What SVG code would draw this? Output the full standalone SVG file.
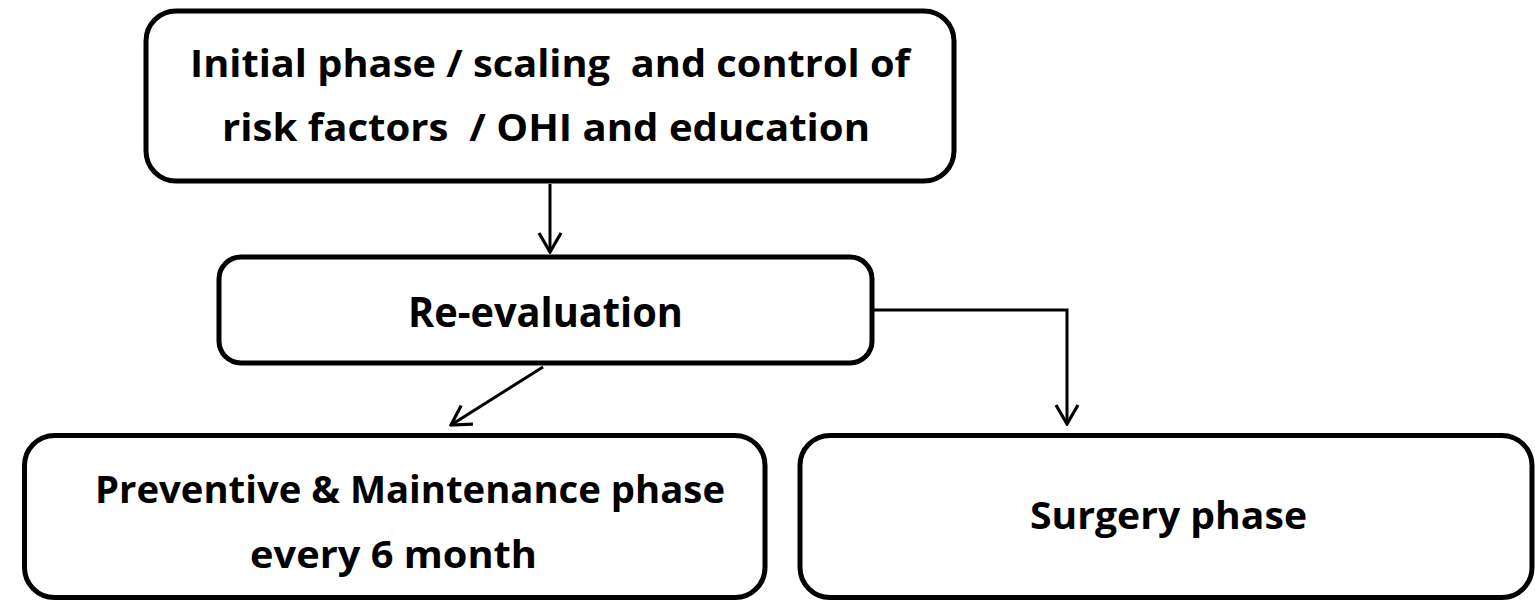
<svg xmlns="http://www.w3.org/2000/svg" width="1535" height="601" viewBox="0 0 1535 601">
<style>
.box{fill:#fff;stroke:#000;stroke-width:5}
.lbl{font-family:"Open Sans","Lato","Liberation Sans",sans-serif;font-weight:bold;fill:#000}
.con{fill:none;stroke:#000;stroke-width:3}
</style>
<defs>
<marker id="arr" viewBox="0 0 22 26" refX="20" refY="13" markerWidth="22" markerHeight="26" markerUnits="userSpaceOnUse" orient="auto">
<path d="M1,2 L20,13 L1,24" fill="none" stroke="#000" stroke-width="3.2"/>
</marker>
</defs>
<rect width="1535" height="601" fill="#fff"/>
<g id="connectors">
<path class="con" d="M550,184 L550,252" marker-end="url(#arr)"/>
<path class="con" d="M543,367 L451,425" marker-end="url(#arr)"/>
<path class="con" d="M874,310 L1067,310 L1067,424" marker-end="url(#arr)"/>
</g>
<g id="initial">
<rect class="box" x="146" y="11" width="808" height="170" rx="30"/>
<text class="lbl" x="190" y="77" font-size="37" textLength="720" lengthAdjust="spacingAndGlyphs" xml:space="preserve">Initial phase / scaling  and control of</text>
<text class="lbl" x="222" y="141" font-size="37" textLength="648" lengthAdjust="spacingAndGlyphs" xml:space="preserve">risk factors  / OHI and education</text>
</g>
<g id="reevaluation">
<rect class="box" x="219" y="257" width="653" height="106" rx="22"/>
<text class="lbl" x="408" y="327" font-size="41" textLength="275" lengthAdjust="spacingAndGlyphs">Re-evaluation</text>
</g>
<g id="preventive">
<rect class="box" x="24.5" y="435.5" width="740.5" height="162" rx="30"/>
<text class="lbl" x="95" y="503" font-size="38" textLength="630" lengthAdjust="spacingAndGlyphs">Preventive &amp; Maintenance phase</text>
<text class="lbl" x="250" y="568" font-size="38" textLength="287" lengthAdjust="spacingAndGlyphs">every 6 month</text>
</g>
<g id="surgery">
<rect class="box" x="800" y="435.5" width="732" height="162" rx="30"/>
<text class="lbl" x="1030" y="529" font-size="37" textLength="277" lengthAdjust="spacingAndGlyphs">Surgery phase</text>
</g>
</svg>
